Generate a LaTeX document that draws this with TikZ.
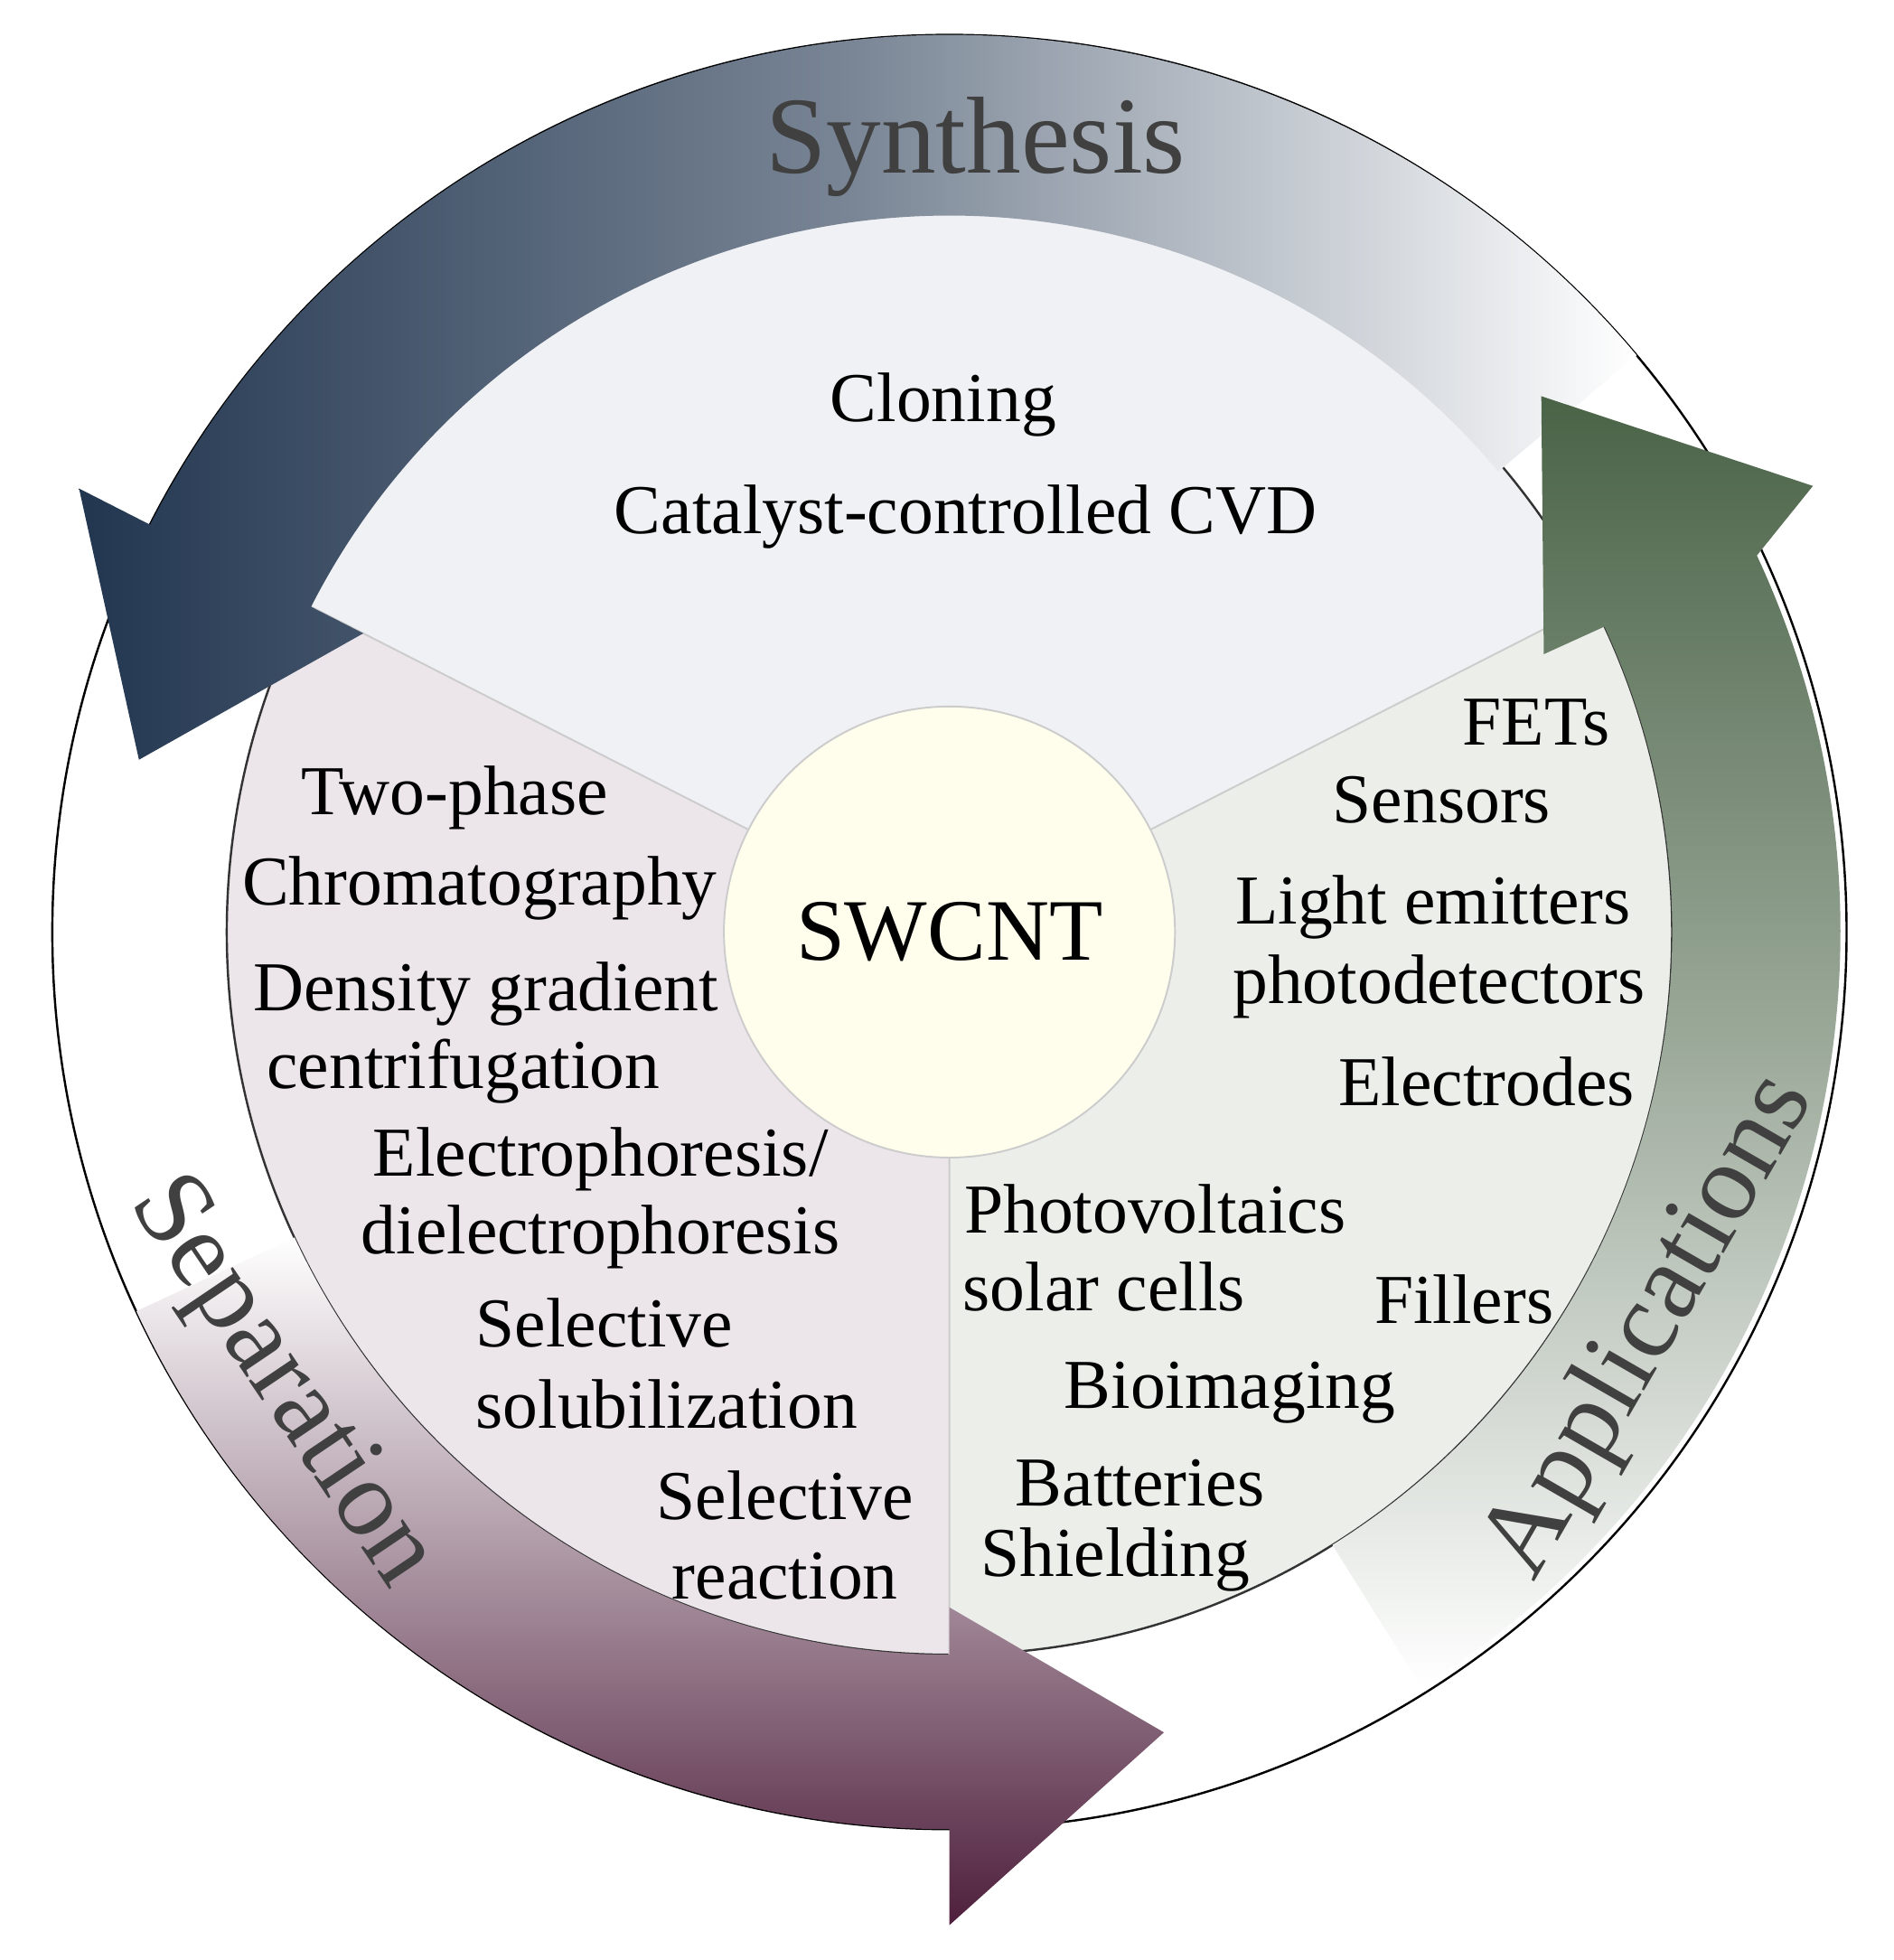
\documentclass[tikz,border=0pt]{standalone}
\usepackage{fontspec}
\setmainfont{Liberation Serif}
\usetikzlibrary{calc}
\usetikzlibrary{positioning}
\definecolor{synblue}{HTML}{223650}
\definecolor{sepred}{HTML}{4E1F3C}
\definecolor{appgreen}{HTML}{4A6347}
\definecolor{topfill}{HTML}{F0F1F4}
\definecolor{leftfill}{HTML}{ECE6EA}
\definecolor{rightfill}{HTML}{ECEEEA}
\begin{document}
\begin{tikzpicture}
        \tikzset{lbl/.style={font=\fontsize{16}{18}\selectfont,inner sep=0pt},
        ring/.style={font=\fontsize{25}{28}\selectfont,text=black!75,inner sep=0pt},
        sector/.style={draw=black!20,line width=0.4pt},
        }
        \useasboundingbox (-7.62,-8.25) rectangle (7.58,7.48);

%%% sectors
        \fill[fill=topfill] (0,0) -- (27:5.8) arc (27:153:5.8) -- cycle;
        \fill[fill=leftfill] (0,0) -- (153:5.8) arc (153:270:5.8) -- cycle;
        \fill[fill=rightfill] (0,0) -- (270:5.8) arc (270:387:5.8) -- cycle;
        \draw[black!80,line width=0.5pt] (0,0) circle (5.8);
        \draw[black,line width=0.5pt] (0,0) circle (7.2);
        \node[circle,draw=black!20,fill=yellow!7,minimum size=3.62cm] (core) at (0,0) {};
        \draw[sector] (core.153) -- (153:5.8)
                      (core.27) -- (27:5.8)
                      (core.270) -- (270:5.8);

%%% ring arrows
        \shade[left color=synblue,right color=white,middle color=synblue!60]
            (40:7.2) arc (40:153:7.2) -- (153:7.84) -- (168:6.65) -- (153:5.28)
            -- (153:5.75) arc (153:40:5.75) -- cycle;
        \shade[top color=white,bottom color=sepred]
            (205:7.2) arc (205:270:7.2) -- (270:7.97) -- (285:6.65) -- (270:5.42)
            -- (270:5.8) arc (270:205:5.8) -- cycle;
        \shade[top color=appgreen,bottom color=white,middle color=appgreen!55]
            (-58:7.15) arc (-58:25:7.15) -- (6.93,3.58) -- (4.75,4.3) -- (4.77,2.23)
            -- (25:5.8) arc (25:-58:5.8) -- cycle;

%%% labels
        \node[ring] (syn) at (0.21,6.3) {Synthesis};
        \node[ring,rotate=-56] (sep) at (-5.37,-3.62) {Separation};
        \node[ring,rotate=60] (app) at (5.63,-3.17) {Applications};
        \node[font=\fontsize{20}{22}\selectfont,inner sep=0pt] at (core) {SWCNT};

        \node[lbl] (clon) at (-0.05,4.23) {Cloning};
        \node[lbl] (cvd) at (0.13,3.33) {Catalyst-controlled CVD};

        \node[lbl] (twoph) at (-3.97,1.08) {Two-phase};
        \node[lbl] (chrom) at (-3.77,0.35) {Chromatography};
        \node[lbl] (dens) at (-3.72,-0.5) {Density gradient};
        \node[lbl] (centr) at (-3.9,-1.12) {centrifugation};
        \node[lbl] (ephor) at (-2.8,-1.82) {Electrophoresis/};
        \node[lbl] (dephor) at (-2.8,-2.45) {dielectrophoresis};
        \node[lbl] (sel1) at (-2.77,-3.14) {Selective};
        \node[lbl] (solub) at (-2.27,-3.79) {solubilization};
        \node[lbl] (sel2) at (-1.32,-4.52) {Selective};
        \node[lbl] (react) at (-1.32,-5.17) {reaction};

        \node[lbl] (fets) at (4.71,1.68) {FETs};
        \node[lbl] (sens) at (3.95,1.06) {Sensors};
        \node[lbl] (light) at (3.88,0.2) {Light emitters};
        \node[lbl] (photo) at (3.93,-0.44) {photodetectors};
        \node[lbl] (elec) at (4.31,-1.2) {Electrodes};
        \node[lbl] (pv) at (1.65,-2.22) {Photovoltaics};
        \node[lbl] (solar) at (1.24,-2.85) {solar cells};
        \node[lbl] (fill) at (4.13,-2.95) {Fillers};
        \node[lbl] (bio) at (2.25,-3.7) {Bioimaging};
        \node[lbl] (batt) at (1.53,-4.42) {Batteries};
        \node[lbl] (shield) at (1.33,-5.04) {Shielding};
\end{tikzpicture}
\end{document}
